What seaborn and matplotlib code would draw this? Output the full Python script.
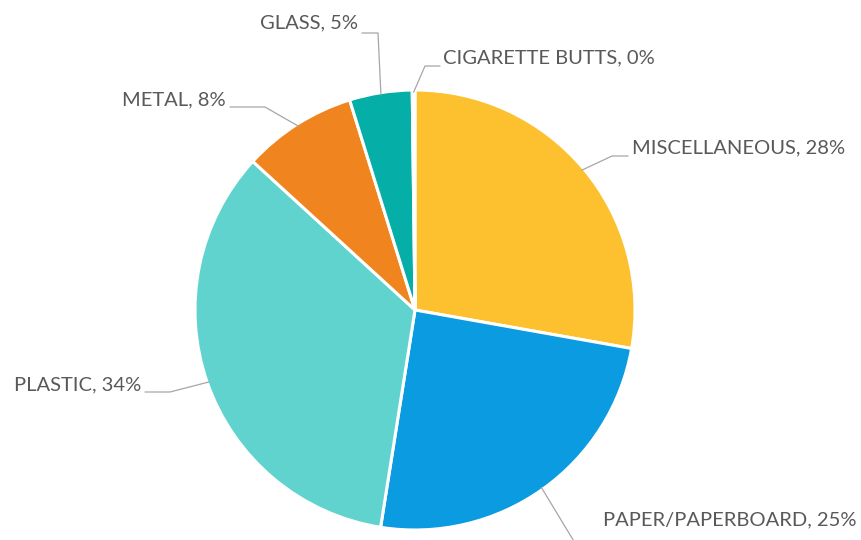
import matplotlib
matplotlib.use('Agg')
import numpy as np
import matplotlib.pyplot as plt
import seaborn as sns

# === DONNÉES ===
categories = ["MISCELLANEOUS", "PAPER/PAPERBOARD", "PLASTIC", "METAL", "GLASS", "CIGARETTE BUTTS"]
parts = [27.8, 24.7, 34.3, 8.4, 4.6, 0.2]
pct_labels = ["28%", "25%", "34%", "8%", "5%", "0%"]
couleurs = ["#FDC12F", "#0A9BE0", "#60D3CF", "#F0841F", "#05AEA6", "#FFFFFF"]

# === STYLE ===
sns.set_theme(style="white")
plt.rcParams['font.family'] = ['Lato', 'DejaVu Sans']

W, H = 862, 540
CX, CY, R = 415, 310, 220  # centre et rayon du camembert, en pixels

fig = plt.figure(figsize=(W / 100, H / 100), dpi=100)
ax = fig.add_axes([(CX - R) / W, (H - CY - R) / H, 2 * R / W, 2 * R / H])

wedges, _ = ax.pie(parts, colors=couleurs, startangle=90, counterclock=False,
                   radius=1, wedgeprops=dict(edgecolor="white", linewidth=2.2))
ax.set_xlim(-1, 1)
ax.set_ylim(-1, 1)
ax.set_aspect("equal")
ax.axis("off")


def px(x, y):
    # pixels -> coordonnées du camembert
    return ((x - CX) / R, (CY - y) / R)


# coude, fin de trait, position du texte, alignement (mise en page des étiquettes)
placements = {
    "MISCELLANEOUS": ((612, 156), (628, 156), (632, 148), "left"),
    "PAPER/PAPERBOARD": ((578, 548), (578, 548), (603, 520), "left"),
    "PLASTIC": ((170, 392), (145, 392), (141, 385), "right"),
    "METAL": ((265, 107), (230, 107), (226, 100), "right"),
    "GLASS": ((378, 33), (362, 33), (358, 23), "right"),
    "CIGARETTE BUTTS": ((425, 66), (440, 66), (443, 58), "left"),
}

gris = "#595959"
for w, cat, pct in zip(wedges, categories, pct_labels):
    ang = np.deg2rad((w.theta1 + w.theta2) / 2)
    ax_pt = (0.99 * np.cos(ang), 0.99 * np.sin(ang))
    coude, fin, txt, ha = placements[cat]
    pts = [ax_pt, px(*coude), px(*fin)]
    xs, ys = zip(*pts)
    ax.plot(xs, ys, color="#A6A6A6", linewidth=0.9, clip_on=False, zorder=1)
    tx, ty = px(*txt)
    ax.text(tx, ty, f"{cat}, {pct}", ha=ha, va="center", fontsize=14.5,
            color=gris, clip_on=False)

fig.savefig("out.png", dpi=100)
